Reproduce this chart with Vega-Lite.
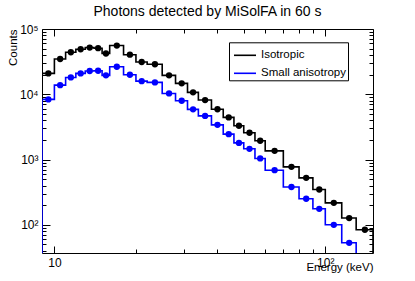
{
 "$schema": "https://vega.github.io/schema/vega-lite/v6.json",
 "width": 331,
 "height": 224,
 "autosize": {"type": "none"},
 "padding": {"left": 42, "top": 29, "right": 42, "bottom": 28},
 "background": "white",
 "title": {"text": "Photons detected by MiSolFA in 60 s", "anchor": "middle", "frame": "group", "font": "Liberation Sans", "fontSize": 14, "fontWeight": "normal", "color": "black", "baseline": "bottom", "offset": -9.5},
 "data": {"values": [
  {"series": "Isotropic", "lo": 9, "hi": 10, "energy": 9.5, "counts": 20900},
  {"series": "Isotropic", "lo": 10, "hi": 11, "energy": 10.5, "counts": 34700},
  {"series": "Isotropic", "lo": 11, "hi": 12, "energy": 11.5, "counts": 44000},
  {"series": "Isotropic", "lo": 12, "hi": 13, "energy": 12.5, "counts": 48900},
  {"series": "Isotropic", "lo": 13, "hi": 14, "energy": 13.5, "counts": 52000},
  {"series": "Isotropic", "lo": 14, "hi": 15, "energy": 14.5, "counts": 50800},
  {"series": "Isotropic", "lo": 15, "hi": 16, "energy": 15.5, "counts": 42100},
  {"series": "Isotropic", "lo": 16, "hi": 18, "energy": 17, "counts": 55800},
  {"series": "Isotropic", "lo": 18, "hi": 20, "energy": 19, "counts": 40400},
  {"series": "Isotropic", "lo": 20, "hi": 22, "energy": 21, "counts": 31200},
  {"series": "Isotropic", "lo": 22, "hi": 25, "energy": 23.5, "counts": 28800},
  {"series": "Isotropic", "lo": 25, "hi": 28, "energy": 26.5, "counts": 19500},
  {"series": "Isotropic", "lo": 28, "hi": 31, "energy": 29.5, "counts": 14700},
  {"series": "Isotropic", "lo": 31, "hi": 34, "energy": 32.5, "counts": 10700},
  {"series": "Isotropic", "lo": 34, "hi": 38, "energy": 36, "counts": 8150},
  {"series": "Isotropic", "lo": 38, "hi": 42, "energy": 40, "counts": 5890},
  {"series": "Isotropic", "lo": 42, "hi": 46, "energy": 44, "counts": 4420},
  {"series": "Isotropic", "lo": 46, "hi": 50, "energy": 48, "counts": 3290},
  {"series": "Isotropic", "lo": 50, "hi": 55, "energy": 52.5, "counts": 2570},
  {"series": "Isotropic", "lo": 55, "hi": 60, "energy": 57.5, "counts": 1940},
  {"series": "Isotropic", "lo": 60, "hi": 70, "energy": 65, "counts": 1360},
  {"series": "Isotropic", "lo": 70, "hi": 80, "energy": 75, "counts": 773},
  {"series": "Isotropic", "lo": 80, "hi": 90, "energy": 85, "counts": 524},
  {"series": "Isotropic", "lo": 90, "hi": 100, "energy": 95, "counts": 348},
  {"series": "Isotropic", "lo": 100, "hi": 115, "energy": 107.5, "counts": 217},
  {"series": "Isotropic", "lo": 115, "hi": 130, "energy": 122.5, "counts": 127},
  {"series": "Isotropic", "lo": 130, "hi": 150, "energy": 140, "counts": 84},
  {"series": "Small anisotropy", "lo": 9, "hi": 10, "energy": 9.5, "counts": 8350},
  {"series": "Small anisotropy", "lo": 10, "hi": 11, "energy": 10.5, "counts": 13800},
  {"series": "Small anisotropy", "lo": 11, "hi": 12, "energy": 11.5, "counts": 18100},
  {"series": "Small anisotropy", "lo": 12, "hi": 13, "energy": 12.5, "counts": 20900},
  {"series": "Small anisotropy", "lo": 13, "hi": 14, "energy": 13.5, "counts": 22700},
  {"series": "Small anisotropy", "lo": 14, "hi": 15, "energy": 14.5, "counts": 22900},
  {"series": "Small anisotropy", "lo": 15, "hi": 16, "energy": 15.5, "counts": 19500},
  {"series": "Small anisotropy", "lo": 16, "hi": 18, "energy": 17, "counts": 26400},
  {"series": "Small anisotropy", "lo": 18, "hi": 20, "energy": 19, "counts": 19900},
  {"series": "Small anisotropy", "lo": 20, "hi": 22, "energy": 21, "counts": 15900},
  {"series": "Small anisotropy", "lo": 22, "hi": 25, "energy": 23.5, "counts": 15200},
  {"series": "Small anisotropy", "lo": 25, "hi": 28, "energy": 26.5, "counts": 10300},
  {"series": "Small anisotropy", "lo": 28, "hi": 31, "energy": 29.5, "counts": 7950},
  {"series": "Small anisotropy", "lo": 31, "hi": 34, "energy": 32.5, "counts": 5870},
  {"series": "Small anisotropy", "lo": 34, "hi": 38, "energy": 36, "counts": 4660},
  {"series": "Small anisotropy", "lo": 38, "hi": 42, "energy": 40, "counts": 3400},
  {"series": "Small anisotropy", "lo": 42, "hi": 46, "energy": 44, "counts": 2450},
  {"series": "Small anisotropy", "lo": 46, "hi": 50, "energy": 48, "counts": 1800},
  {"series": "Small anisotropy", "lo": 50, "hi": 55, "energy": 52.5, "counts": 1460},
  {"series": "Small anisotropy", "lo": 55, "hi": 60, "energy": 57.5, "counts": 1040},
  {"series": "Small anisotropy", "lo": 60, "hi": 70, "energy": 65, "counts": 687},
  {"series": "Small anisotropy", "lo": 70, "hi": 80, "energy": 75, "counts": 380},
  {"series": "Small anisotropy", "lo": 80, "hi": 90, "energy": 85, "counts": 251},
  {"series": "Small anisotropy", "lo": 90, "hi": 100, "energy": 95, "counts": 176},
  {"series": "Small anisotropy", "lo": 100, "hi": 115, "energy": 107.5, "counts": 100},
  {"series": "Small anisotropy", "lo": 115, "hi": 130, "energy": 122.5, "counts": 53},
  {"series": "Small anisotropy", "lo": 130, "hi": 150, "energy": 140, "counts": 30}
 ]},
 "layer": [
  {
   "transform": [{"fold": ["lo", "hi"], "as": ["edgetype", "edge"]}],
   "mark": {"type": "line", "strokeWidth": 1.6, "clip": true},
   "encoding": {
    "x": {"field": "edge", "type": "quantitative",
      "scale": {"type": "log", "domain": [9, 150], "nice": false},
      "axis": {"orient": "bottom", "values": [10, 20, 30, 40, 50, 60, 70, 80, 90, 100],
        "labelExpr": "datum.value == 10 ? '10' : datum.value == 100 ? '10²' : ''",
        "tickSize": {"condition": {"test": "datum.value == 10 || datum.value == 100", "value": -7}, "value": -4},
        "labelPadding": 11, "title": "Energy (keV)", "titleAnchor": "end", "titleAlign": "right",
        "titleX": 331, "titleY": 17.5, "titleBaseline": "alphabetic",
        "grid": false, "domain": false, "labelOverlap": false, "labelFlush": false, "labelBound": false}},
    "y": {"field": "counts", "type": "quantitative",
      "scale": {"type": "log", "domain": [37, 100000], "nice": false},
      "axis": {"orient": "left", "values": [40, 50, 60, 70, 80, 90, 100, 200, 300, 400, 500, 600, 700, 800, 900, 1000, 2000, 3000, 4000, 5000, 6000, 7000, 8000, 9000, 10000, 20000, 30000, 40000, 50000, 60000, 70000, 80000, 90000, 100000],
        "labelExpr": "datum.value == 100 ? '10²' : datum.value == 1000 ? '10³' : datum.value == 10000 ? '10⁴' : datum.value == 100000 ? '10⁵' : ''",
        "tickSize": {"condition": {"test": "datum.value == 100 || datum.value == 1000 || datum.value == 10000 || datum.value == 100000", "value": -8}, "value": -4},
        "labelPadding": 12, "title": "Counts", "titleAngle": -90, "titleX": -29, "titleY": 0,
        "titleAlign": "right", "titleBaseline": "middle",
        "grid": false, "domain": false, "labelOverlap": false, "labelFlush": false, "labelBound": false}},
    "color": {"field": "series", "type": "nominal",
      "scale": {"domain": ["Isotropic", "Small anisotropy"], "range": ["#000000", "#0000ff"]},
      "legend": {"title": null, "orient": "none", "legendX": 187, "legendY": 13.3, "symbolType": "stroke", "symbolSize": 484, "symbolStrokeWidth": 1.6, "padding": 1, "symbolOffset": 3, "rowPadding": -4.3, "labelOffset": 4}},
    "order": [{"field": "lo", "type": "quantitative"}, {"field": "edge", "type": "quantitative"}]
   }
  },
  {
   "transform": [{"filter": "datum.counts >= 37"}],
   "mark": {"type": "circle", "size": 40, "opacity": 1},
   "encoding": {
    "x": {"field": "energy", "type": "quantitative",
      "scale": {"type": "log", "domain": [9, 150], "nice": false},
      "axis": {"orient": "top", "values": [10, 20, 30, 40, 50, 60, 70, 80, 90, 100], "labels": false,
        "tickSize": {"condition": {"test": "datum.value == 10 || datum.value == 100", "value": -7}, "value": -4},
        "title": null, "grid": false, "domain": false}},
    "y": {"field": "counts", "type": "quantitative",
      "scale": {"type": "log", "domain": [37, 100000], "nice": false},
      "axis": {"orient": "right", "values": [40, 50, 60, 70, 80, 90, 100, 200, 300, 400, 500, 600, 700, 800, 900, 1000, 2000, 3000, 4000, 5000, 6000, 7000, 8000, 9000, 10000, 20000, 30000, 40000, 50000, 60000, 70000, 80000, 90000, 100000], "labels": false,
        "tickSize": {"condition": {"test": "datum.value == 100 || datum.value == 1000 || datum.value == 10000 || datum.value == 100000", "value": -8}, "value": -4},
        "title": null, "grid": false, "domain": false}},
    "color": {"field": "series", "type": "nominal",
      "scale": {"domain": ["Isotropic", "Small anisotropy"], "range": ["#000000", "#0000ff"]},
      "legend": {"title": null, "orient": "none", "legendX": 187, "legendY": 13.3, "symbolType": "stroke", "symbolSize": 484, "symbolStrokeWidth": 1.6, "padding": 1, "symbolOffset": 3, "rowPadding": -4.3, "labelOffset": 4}}
   }
  },
  {
   "transform": [{"filter": "datum.lo == 9"}],
   "mark": {"type": "rule", "strokeWidth": 1.6, "clip": true},
   "encoding": {
    "x": {"field": "lo", "type": "quantitative", "scale": {"type": "log", "domain": [9, 150], "nice": false}, "axis": null},
    "y": {"field": "counts", "type": "quantitative", "scale": {"type": "log", "domain": [37, 100000], "nice": false}, "axis": null},
    "y2": {"datum": 1},
    "color": {"field": "series", "type": "nominal",
      "scale": {"domain": ["Isotropic", "Small anisotropy"], "range": ["#000000", "#0000ff"]},
      "legend": {"title": null, "orient": "none", "legendX": 187, "legendY": 13.3, "symbolType": "stroke", "symbolSize": 484, "symbolStrokeWidth": 1.6, "padding": 1, "symbolOffset": 3, "rowPadding": -4.3, "labelOffset": 4}}
   }
  },
  {
   "transform": [{"filter": "datum.hi == 150"}],
   "mark": {"type": "rule", "strokeWidth": 1.6, "clip": true},
   "encoding": {
    "x": {"field": "hi", "type": "quantitative", "scale": {"type": "log", "domain": [9, 150], "nice": false}, "axis": null},
    "y": {"field": "counts", "type": "quantitative", "scale": {"type": "log", "domain": [37, 100000], "nice": false}, "axis": null},
    "y2": {"datum": 1},
    "color": {"field": "series", "type": "nominal",
      "scale": {"domain": ["Isotropic", "Small anisotropy"], "range": ["#000000", "#0000ff"]},
      "legend": {"title": null, "orient": "none", "legendX": 187, "legendY": 13.3, "symbolType": "stroke", "symbolSize": 484, "symbolStrokeWidth": 1.6, "padding": 1, "symbolOffset": 3, "rowPadding": -4.3, "labelOffset": 4}}
   }
  }
 ],
 "resolve": {"axis": {"x": "independent", "y": "independent"}},
 "config": {
  "view": {"stroke": "black", "strokeWidth": 1},
  "axis": {"labelFont": "Liberation Sans", "labelFontSize": 12, "labelColor": "black", "tickColor": "black", "tickWidth": 1,
    "titleFont": "Liberation Sans", "titleFontSize": 11.5, "titleFontWeight": "normal", "titleColor": "black"},
  "legend": {"labelFont": "Liberation Sans", "labelFontSize": 11.5, "labelColor": "black", "strokeColor": "black", "fillColor": "white"}
 }
}
